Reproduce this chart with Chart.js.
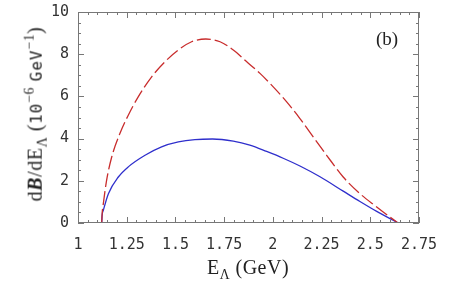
<!DOCTYPE html>
<html>
<head>
<meta charset="utf-8">
<script src="https://cdn.jsdelivr.net/npm/chart.js@4/dist/chart.umd.min.js"></script>
<style>
  html, body { margin: 0; padding: 0; background: #fff; }
  #wrap { position: relative; width: 456px; height: 282px; }
  #plot { position: absolute; left: 0; top: 0; }
  .lbl { position: absolute; font-family: "Liberation Serif", serif; color: #222; white-space: nowrap; }
  #ytitle { left: 36px; top: 114px; font-size: 20px; letter-spacing: 0.6px; transform: translate(-50%, -50%) rotate(-90deg); }
  #xtitle { left: 248px; top: 256px; font-size: 20px; letter-spacing: 0.5px; transform: translateX(-50%); }
  #tag { left: 376px; top: 28px; font-size: 19px; }
  .mono { font-family: "DejaVu Sans Mono", monospace; font-size: 16px; letter-spacing: 1px; }
  sub, sup { font-size: 68%; }
</style>
</head>
<body>
<div id="wrap">
  <canvas id="plot" width="456" height="282"></canvas>
  <div class="lbl" id="ytitle">d<b><i>B</i></b>/dE<sub>&Lambda;</sub> (<span class="mono">10</span><sup>&minus;6</sup> <span class="mono">GeV</span><sup>&minus;1</sup>)</div>
  <div class="lbl" id="xtitle">E<sub>&Lambda;</sub> (GeV)</div>
  <div class="lbl" id="tag">(b)</div>
</div>
<script>
// dB/dE spectrum, panel (b)
const redX = [1.1216, 1.124, 1.130, 1.147, 1.173, 1.215, 1.258, 1.309, 1.378, 1.446, 1.515, 1.583, 1.656, 1.729, 1.797, 1.866, 1.934, 2.002, 2.071, 2.139, 2.207, 2.276, 2.361, 2.447, 2.533, 2.601, 2.643];
const redY = [0, 0.45, 0.92, 2.03, 3.13, 4.24, 5.11, 5.98, 6.93, 7.64, 8.2, 8.59, 8.72, 8.59, 8.2, 7.64, 7.09, 6.45, 5.74, 4.95, 4.08, 3.21, 2.18, 1.39, 0.76, 0.28, 0];
const blueX = [1.1216, 1.124, 1.130, 1.156, 1.207, 1.258, 1.344, 1.429, 1.515, 1.600, 1.69, 1.797, 1.882, 1.968, 2.053, 2.139, 2.242, 2.361, 2.447, 2.533, 2.643];
const blueY = [0, 0.38, 0.6, 1.39, 2.18, 2.66, 3.21, 3.61, 3.84, 3.95, 3.98, 3.88, 3.69, 3.39, 3.07, 2.70, 2.19, 1.51, 1.02, 0.55, 0];
const xTicks = [1, 1.25, 1.5, 1.75, 2, 2.25, 2.5, 2.75];
const yTicks = [0, 2, 4, 6, 8, 10];

const pts = (xs, ys) => xs.map((x, i) => ({ x: x, y: ys[i] }));

// Mathematica-style frame with inward ticks on all sides
const frame = {
  id: 'frame',
  afterDraw(chart) {
    const c = chart.ctx, a = chart.chartArea;
    const sx = chart.scales.x, sy = chart.scales.y;
    c.save();
    c.strokeStyle = '#777';
    c.lineWidth = 1;
    c.strokeRect(a.left + 0.5, a.top + 0.5, a.right - a.left - 1, a.bottom - a.top - 1);
    c.beginPath();
    for (let v = 1; v <= 2.7501; v += 0.05) {
      const px = Math.round(sx.getPixelForValue(v)) + 0.5;
      const major = Math.abs(v * 4 - Math.round(v * 4)) < 1e-6;
      const len = major ? 6 : 3;
      c.moveTo(px, a.bottom); c.lineTo(px, a.bottom - len);
      c.moveTo(px, a.top); c.lineTo(px, a.top + len);
    }
    for (let v = 0; v <= 10.001; v += 0.5) {
      const py = Math.round(sy.getPixelForValue(v)) + 0.5;
      const major = Math.abs(v / 2 - Math.round(v / 2)) < 1e-6;
      const len = major ? 6 : 3;
      c.moveTo(a.left, py); c.lineTo(a.left + len, py);
      c.moveTo(a.right, py); c.lineTo(a.right - len, py);
    }
    c.stroke();
    c.restore();
  }
};

const ctx = document.getElementById('plot').getContext('2d');
const chart = new Chart(ctx, {
  type: 'line',
  data: {
    datasets: [{
      data: pts(redX, redY),
      borderColor: '#c82c2c',
      borderWidth: 1.3,
      borderDash: [14, 4],
      pointRadius: 0,
      cubicInterpolationMode: 'monotone',
      fill: false
    }, {
      data: pts(blueX, blueY),
      borderColor: '#2f2fcc',
      borderWidth: 1.3,
      pointRadius: 0,
      cubicInterpolationMode: 'monotone',
      fill: false
    }]
  },
  options: {
    responsive: false,
    animation: false,
    events: [],
    layout: { padding: { left: 0, top: 12, right: 37, bottom: 0 } },
    plugins: { legend: { display: false }, tooltip: { enabled: false } },
    scales: {
      x: {
        type: 'linear',
        min: 1, max: 2.75,
        afterBuildTicks: s => { s.ticks = xTicks.map(v => ({ value: v })); },
        afterFit: s => { s.height = 59; },
        grid: { display: false },
        border: { display: false },
        ticks: {
          padding: 5,
          color: '#333',
          font: { family: 'DejaVu Sans Mono', size: 15 },
          maxRotation: 0,
          autoSkip: false,
          callback: v => String(v)
        }
      },
      y: {
        min: 0, max: 10,
        afterBuildTicks: s => { s.ticks = yTicks.map(v => ({ value: v })); },
        afterFit: s => { s.width = 78; },
        grid: { display: false },
        border: { display: false },
        ticks: {
          padding: 1,
          color: '#333',
          font: { family: 'DejaVu Sans Mono', size: 15 },
          callback: v => String(v)
        }
      }
    }
  },
  plugins: [frame]
});
</script>
</body>
</html>
